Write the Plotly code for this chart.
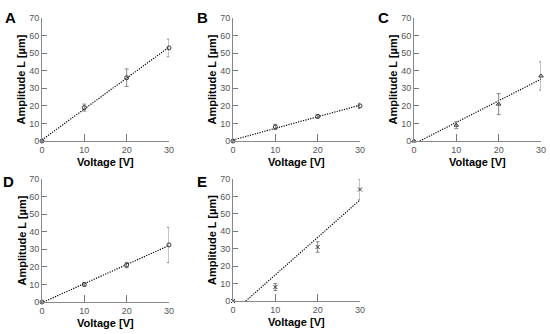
import numpy as np
import plotly.graph_objects as go

voltage = [0, 10, 20, 30]
panels = ["A", "B", "C", "D", "E"]
amp_A = [0, 19, 36, 53]
err_A = [0, 2, 5, 5]
amp_B = [0, 8, 14, 20]
err_B = [0, 1.5, 1, 1.5]
amp_C = [0, 9, 21, 37]
err_C = [0, 2, 6, 8]
amp_D = [0, 10, 21, 32.5]
err_D = [0, 1, 1.5, 10]
amp_E = [0, 8, 31, 64]
err_E = [0, 2, 3, 6]
symbols = ["circle-open", "circle-open", "triangle-up-open", "circle-open", "x-thin-open"]
xticks = [0, 10, 20, 30]
yticks = [0, 10, 20, 30, 40, 50, 60, 70]

amps = [amp_A, amp_B, amp_C, amp_D, amp_E]
errs = [err_A, err_B, err_C, err_D, err_E]

W, H = 550, 334
# pixel boxes: (left, right, top, bottom)
boxes = [(42, 169, 18, 141), (233, 360, 18, 141), (414, 541, 18, 141),
         (42, 169, 179, 302), (233, 360, 179, 301)]
letter_pos = [(10, 18), (202, 18), (383, 18), (8, 181), (202, 181)]

fig = go.Figure()
layout = dict(width=W, height=H, margin=dict(l=0, r=0, t=0, b=0),
              paper_bgcolor="white", plot_bgcolor="white", showlegend=False,
              font=dict(family="Liberation Sans, Arial", color="#555555"))
annotations = []
for i, p in enumerate(panels):
    n = i + 1
    xa = "x" if n == 1 else f"x{n}"
    ya = "y" if n == 1 else f"y{n}"
    l, r, t, b = boxes[i]
    layout["xaxis" if n == 1 else f"xaxis{n}"] = dict(
        domain=[l / W, r / W], range=[0, 30], anchor=ya, automargin=False,
        tickvals=xticks, ticks="inside", ticklen=7, tickcolor="#777777",
        showline=True, linecolor="#888888", linewidth=1, showgrid=False,
        zeroline=False, tickfont=dict(size=9, color="#555555"))
    layout["yaxis" if n == 1 else f"yaxis{n}"] = dict(
        domain=[1 - b / H, 1 - t / H], range=[0, 70], anchor=xa, automargin=False,
        tickvals=yticks, ticks="inside", ticklen=5, tickcolor="#777777",
        showline=True, linecolor="#888888", linewidth=1, showgrid=False,
        zeroline=False, tickfont=dict(size=9, color="#555555"))
    x = np.array(voltage, dtype=float)
    y = np.array(amps[i], dtype=float)
    slope, inter = np.polyfit(x, y, 1)
    x0 = max(0.0, -inter / slope)
    xf = np.array([x0, 30.0])
    fig.add_trace(go.Scatter(x=xf, y=slope * xf + inter, mode="lines",
                             line=dict(color="black", width=1.2, dash="1.2px,1.3px"),
                             xaxis=xa, yaxis=ya, hoverinfo="skip"))
    fig.add_trace(go.Scatter(x=voltage, y=amps[i], mode="markers",
                             marker=dict(symbol=symbols[i], size=4, color="#333333",
                                         line=dict(width=1, color="#333333")),
                             error_y=dict(type="data", array=errs[i], color="#888888",
                                          thickness=1, width=2),
                             cliponaxis=False, xaxis=xa, yaxis=ya))
    annotations.append(dict(text="<b>Amplitude L [µm]</b>", textangle=-90, showarrow=False,
                            xref=f"{xa} domain", yref=f"{ya} domain", x=0, y=0.5,
                            xshift=-21, xanchor="center", yanchor="middle",
                            font=dict(size=11, color="black", family="Liberation Sans, Arial")))
    annotations.append(dict(text="<b>Voltage [V]</b>", showarrow=False,
                            xref=f"{xa} domain", yref=f"{ya} domain", x=0.5, y=0,
                            yshift=-21, xanchor="center", yanchor="middle",
                            font=dict(size=11, color="black", family="Liberation Sans, Arial")))
    lx, ly = letter_pos[i]
    annotations.append(dict(text=f"<b>{p}</b>", showarrow=False, xref="paper", yref="paper",
                            x=lx / W, y=1 - ly / H, xanchor="center", yanchor="middle",
                            font=dict(size=15, color="black", family="Liberation Sans, Arial")))
layout["annotations"] = annotations
fig.update_layout(**layout)
fig.write_html("out.html", config={"displayModeBar": False},
               post_script="document.body.style.margin='0';document.body.style.padding='0';")
